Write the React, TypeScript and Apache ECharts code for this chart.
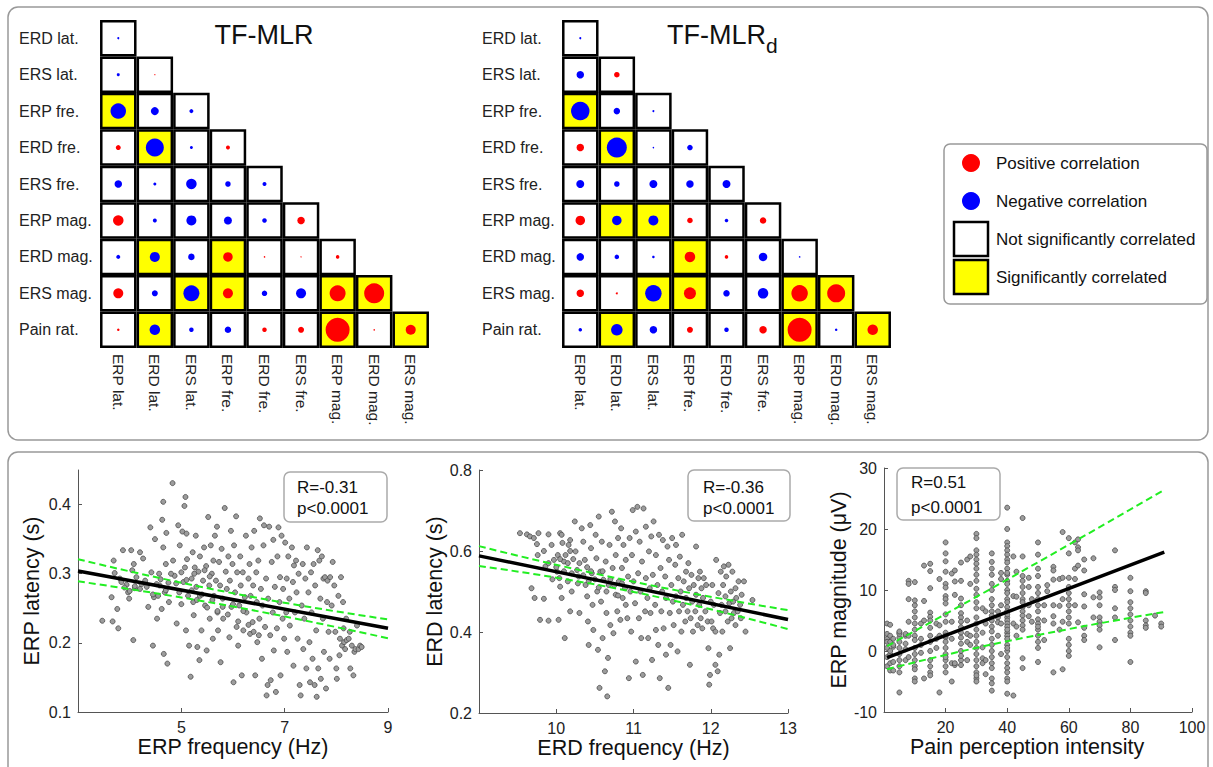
import React, { useEffect, useRef } from 'react';
import * as echarts from 'echarts';

const FONT = '"Liberation Sans", Arial, Helvetica, sans-serif';

const rowLabels = ['ERD lat.', 'ERS lat.', 'ERP fre.', 'ERD fre.', 'ERS fre.', 'ERP mag.', 'ERD mag.', 'ERS mag.', 'Pain rat.'];
const colLabels = ['ERP lat.', 'ERD lat.', 'ERS lat.', 'ERP fre.', 'ERD fre.', 'ERS fre.', 'ERP mag.', 'ERD mag.', 'ERS mag.'];

// correlation coefficients (sign = colour, magnitude = dot size), lower triangle
const mlrCorr = [
  [-0.04],
  [-0.06, 0.02],
  [-0.31, -0.16, -0.08],
  [0.10, -0.36, -0.06, 0.08],
  [-0.15, -0.06, -0.21, -0.11, -0.08],
  [0.21, -0.08, -0.20, -0.16, -0.09, 0.15],
  [-0.08, -0.20, -0.13, 0.19, 0.03, 0.02, 0.07],
  [0.20, -0.12, -0.32, 0.20, -0.11, -0.20, 0.32, 0.40],
  [0.05, -0.21, -0.09, -0.13, 0.09, 0.12, 0.48, 0.03, 0.20],
];
const mlrSig = [
  [0], [0, 0], [1, 0, 0], [0, 1, 0, 0], [0, 0, 0, 0, 0], [0, 0, 0, 0, 0, 0],
  [0, 1, 0, 1, 0, 0, 0], [0, 0, 1, 1, 0, 0, 1, 1], [0, 1, 0, 0, 0, 0, 1, 0, 1],
];
const mlrdCorr = [
  [-0.04],
  [-0.15, 0.11],
  [-0.37, -0.13, -0.04],
  [0.15, -0.40, -0.03, -0.11],
  [-0.16, -0.11, -0.16, -0.15, -0.16],
  [0.19, -0.19, -0.20, 0.11, -0.07, 0.13],
  [-0.15, -0.09, -0.05, 0.21, 0.07, -0.17, -0.03],
  [0.15, 0.04, -0.33, 0.24, -0.13, -0.21, 0.33, 0.36],
  [-0.07, -0.23, -0.15, 0.12, -0.09, 0.15, 0.48, -0.05, 0.21],
];
const mlrdSig = [
  [0], [0, 0], [1, 0, 0], [0, 1, 0, 0], [0, 0, 0, 0, 0], [0, 1, 1, 0, 0, 0],
  [0, 0, 0, 1, 0, 0, 0], [0, 0, 1, 1, 0, 0, 1, 1], [0, 1, 0, 0, 0, 0, 1, 0, 1],
];

// Scatter 1: ERP frequency (Hz) vs ERP latency (s)
const erpFreqLat = [
  [3.47,0.232],[3.65,0.266],[3.67,0.231],[3.78,0.221],[3.71,0.301],[3.69,0.319],[3.81,0.293],[3.76,0.249],[3.84,0.288],[3.87,0.334],
  [3.97,0.273],[3.99,0.264],[3.94,0.284],[4.03,0.334],[4.08,0.314],[4.05,0.305],[4.10,0.279],[4.07,0.204],[4.13,0.295],
  [4.20,0.331],[4.23,0.285],[4.26,0.322],[4.33,0.281],[4.36,0.252],[4.40,0.367],[4.42,0.302],[4.45,0.196],[4.47,0.266],[4.49,0.350],
  [4.52,0.285],[4.53,0.235],[4.57,0.300],[4.58,0.283],[4.62,0.249],[4.63,0.378],[4.65,0.404],[4.65,0.338],[4.66,0.184],[4.68,0.273],
  [4.70,0.314],[4.73,0.170],[4.71,0.359],[4.75,0.287],[4.76,0.259],
  [4.83,0.431],[4.84,0.319],[4.87,0.297],[4.91,0.228],[4.94,0.370],[4.96,0.273],[4.97,0.341],[5.00,0.256],[5.02,0.361],[5.04,0.288],
  [5.06,0.398],[5.08,0.411],[5.07,0.309],[5.09,0.218],[5.10,0.358],[5.11,0.321],[5.13,0.268],[5.15,0.196],[5.18,0.151],[5.20,0.293],
  [5.22,0.331],[5.23,0.259],[5.24,0.240],[5.26,0.309],[5.28,0.355],[5.29,0.281],[5.31,0.194],[5.33,0.303],[5.35,0.175],[5.36,0.325],[5.36,0.268],
  [5.39,0.218],[5.42,0.290],[5.44,0.338],[5.46,0.254],[5.48,0.311],[5.49,0.189],[5.52,0.382],[5.54,0.283],[5.55,0.235],[5.57,0.341],
  [5.59,0.300],[5.61,0.206],[5.62,0.319],[5.63,0.268],[5.65,0.355],[5.67,0.290],[5.69,0.368],[5.70,0.244],[5.71,0.218],[5.73,0.317],
  [5.75,0.283],[5.76,0.172],[5.78,0.336],[5.80,0.264],[5.81,0.235],[5.84,0.395],[5.86,0.303],[5.88,0.278],[5.91,0.325],[5.93,0.208],
  [5.94,0.290],[5.96,0.362],[5.97,0.252],[5.99,0.314],
  [6.01,0.143],[6.02,0.341],[6.04,0.273],[6.06,0.383],[6.07,0.223],[6.08,0.302],[6.10,0.196],[6.12,0.254],[6.14,0.325],[6.15,0.283],
  [6.17,0.153],[6.19,0.302],[6.20,0.218],[6.23,0.266],[6.25,0.355],[6.26,0.244],[6.30,0.293],[6.32,0.314],[6.33,0.213],[6.34,0.268],
  [6.36,0.338],[6.38,0.230],[6.39,0.283],[6.41,0.362],[6.43,0.153],[6.45,0.302],[6.46,0.259],[6.47,0.201],[6.49,0.319],[6.51,0.235],
  [6.52,0.380],[6.54,0.278],[6.56,0.177],[6.57,0.254],[6.59,0.341],[6.60,0.370],[6.62,0.223],[6.64,0.293],
  [6.65,0.124],[6.67,0.139],[6.68,0.264],[6.70,0.368],[6.72,0.211],[6.73,0.146],[6.75,0.317],[6.77,0.244],[6.78,0.349],[6.79,0.189],
  [6.81,0.281],[6.83,0.129],[6.85,0.221],[6.86,0.325],[6.88,0.367],[6.90,0.259],[6.91,0.295],[6.92,0.153],[6.94,0.355],[6.96,0.235],
  [6.97,0.278],[6.99,0.206],[7.01,0.345],[7.03,0.244],[7.04,0.293],[7.05,0.187],[7.07,0.325],[7.09,0.264],[7.10,0.225],[7.14,0.338],
  [7.16,0.288],[7.17,0.167],[7.18,0.312],[7.20,0.244],[7.22,0.319],[7.23,0.273],[7.25,0.206],[7.27,0.300],[7.29,0.139],
  [7.31,0.124],[7.33,0.254],[7.35,0.314],[7.36,0.191],[7.38,0.235],[7.40,0.293],[7.42,0.163],[7.43,0.338],[7.46,0.273],[7.48,0.201],
  [7.49,0.143],[7.51,0.302],[7.52,0.244],[7.54,0.177],[7.56,0.314],[7.58,0.139],[7.59,0.283],[7.61,0.218],[7.62,0.122],[7.64,0.334],
  [7.65,0.163],[7.67,0.319],[7.69,0.264],[7.70,0.148],[7.72,0.325],[7.74,0.235],[7.75,0.293],[7.76,0.187],[7.78,0.295],[7.80,0.134],
  [7.82,0.259],[7.83,0.290],[7.85,0.216],[7.87,0.177],[7.88,0.295],[7.91,0.254],[7.93,0.317],
  [7.96,0.283],[7.98,0.216],[8.00,0.163],[8.01,0.148],[8.04,0.268],[8.06,0.182],[8.07,0.206],[8.09,0.295],[8.11,0.196],[8.13,0.259],
  [8.14,0.221],[8.15,0.201],[8.17,0.191],[8.19,0.235],[8.20,0.204],[8.24,0.206],[8.26,0.216],[8.27,0.163],[8.30,0.196],[8.33,0.153],
  [8.35,0.187],[8.37,0.191],[8.40,0.225],[8.43,0.191],[8.46,0.196],[8.49,0.194],
  [3.90,0.280],[4.00,0.275],[4.10,0.282],[4.20,0.278],[4.30,0.290],[4.45,0.270],[4.55,0.268],[4.60,0.292],[4.70,0.276],[4.80,0.300],
  [4.90,0.286],[5.00,0.302],[5.10,0.291],[5.20,0.276],[5.30,0.262],[5.40,0.270],[5.50,0.251],[5.60,0.262],[5.70,0.246],[5.80,0.252],
  [5.90,0.241],[6.00,0.256],[6.10,0.231],[6.20,0.246],[6.30,0.226],[6.40,0.216],[6.50,0.211],[5.25,0.300],[5.45,0.305],[5.55,0.296],
];
const erpFit = [[3, 0.304], [9, 0.221]];
const erpUpper = [[3, 0.321], [6, 0.2717], [9, 0.234]];
const erpLower = [[3, 0.289], [6, 0.2525], [9, 0.2066]];

// Scatter 2: ERD frequency (Hz) vs ERD latency (s)
const erdFreqLat = [
  [9.53,0.644],[9.62,0.641],[9.66,0.636],[9.71,0.632],[9.77,0.644],[9.90,0.641],[10.05,0.644],[10.07,0.640],
  [9.68,0.508],[9.72,0.484],[9.84,0.482],[9.79,0.430],[9.90,0.428],[9.75,0.617],[9.84,0.600],[9.76,0.590],[9.86,0.562],[9.94,0.615],
  [9.97,0.578],[10.02,0.590],[10.01,0.549],[10.04,0.533],[10.05,0.512],[10.07,0.484],[10.03,0.430],[10.11,0.385],[10.10,0.574],
  [10.16,0.615],[10.18,0.627],[10.15,0.525],[10.20,0.500],[10.18,0.451],[10.24,0.673],[10.25,0.599],[10.27,0.553],[10.29,0.537],
  [10.30,0.447],[10.33,0.656],[10.35,0.623],[10.37,0.578],[10.38,0.516],[10.40,0.488],[10.41,0.426],[10.42,0.368],[10.44,0.664],
  [10.45,0.607],[10.46,0.545],[10.47,0.467],[10.48,0.405],[10.51,0.640],[10.52,0.582],[10.53,0.500],[10.54,0.356],[10.55,0.685],
  [10.56,0.262],[10.57,0.549],[10.58,0.475],[10.59,0.623],[10.60,0.385],[10.61,0.529],[10.63,0.303],[10.64,0.574],[10.65,0.447],
  [10.66,0.241],[10.67,0.336],[10.68,0.516],[10.69,0.615],[10.70,0.417],[10.72,0.697],[10.73,0.558],[10.74,0.397],[10.76,0.673],
  [10.77,0.492],[10.77,0.590],[10.79,0.451],[10.80,0.632],[10.81,0.525],[10.83,0.430],[10.84,0.656],[10.85,0.558],[10.86,0.484],
  [10.87,0.615],[10.89,0.508],[10.90,0.578],[10.90,0.467],[10.92,0.434],[10.93,0.537],[10.94,0.286],[10.95,0.632],[10.96,0.500],
  [10.97,0.401],[10.98,0.590],[10.99,0.701],[11.00,0.525],[11.02,0.471],[11.03,0.327],[11.03,0.648],[11.05,0.709],[11.06,0.545],
  [11.07,0.434],[11.08,0.623],[11.09,0.500],[11.10,0.385],[11.11,0.574],[11.12,0.294],[11.13,0.705],[11.15,0.451],[11.16,0.533],
  [11.16,0.660],[11.18,0.484],[11.19,0.385],[11.20,0.599],[11.21,0.508],[11.22,0.447],[11.23,0.636],[11.24,0.331],[11.25,0.541],
  [11.26,0.673],[11.28,0.467],[11.29,0.405],[11.29,0.590],[11.31,0.516],[11.32,0.368],[11.33,0.640],[11.34,0.286],[11.35,0.558],
  [11.36,0.451],[11.37,0.500],[11.38,0.627],[11.39,0.409],[11.41,0.537],[11.42,0.344],[11.42,0.484],[11.44,0.611],[11.45,0.262],
  [11.46,0.578],[11.47,0.447],[11.48,0.368],[11.49,0.516],[11.50,0.632],[11.51,0.475],[11.52,0.417],[11.54,0.566],[11.55,0.615],
  [11.55,0.488],[11.57,0.352],[11.58,0.533],[11.59,0.451],[11.60,0.586],[11.61,0.500],[11.62,0.401],[11.63,0.640],[11.64,0.467],
  [11.65,0.525],[11.67,0.426],[11.68,0.549],[11.68,0.484],[11.70,0.451],[11.71,0.570],[11.72,0.508],[11.73,0.319],[11.74,0.434],
  [11.75,0.541],[11.76,0.475],[11.77,0.401],[11.78,0.516],[11.80,0.451],[11.81,0.611],[11.81,0.492],[11.83,0.417],[11.84,0.533],
  [11.85,0.467],[11.86,0.549],[11.87,0.434],[11.88,0.508],[11.89,0.409],[11.90,0.484],[11.91,0.533],[11.93,0.451],[11.94,0.516],
  [11.96,0.426],[11.97,0.360],[11.98,0.270],[11.99,0.294],[12.00,0.475],[12.01,0.426],[12.02,0.516],[12.03,0.409],[12.04,0.467],
  [12.06,0.319],[12.06,0.401],[12.07,0.578],[12.09,0.303],[12.10,0.496],[12.11,0.344],[12.12,0.447],[12.13,0.549],[12.14,0.467],
  [12.15,0.401],[12.16,0.516],[12.17,0.562],[12.19,0.451],[12.19,0.488],[12.20,0.537],[12.22,0.426],[12.23,0.566],[12.24,0.471],
  [12.25,0.360],[12.26,0.500],[12.27,0.434],[12.28,0.549],[12.29,0.475],[12.30,0.447],[12.32,0.508],[12.32,0.417],[12.33,0.484],
  [12.35,0.451],[12.36,0.525],[12.38,0.467],[12.39,0.434],[12.40,0.492],[12.43,0.525],[12.45,0.401],[12.54,0.479],
  [10.00,0.560],[10.05,0.580],[10.10,0.550],[10.12,0.590],[10.15,0.570],[10.20,0.545],[10.22,0.580],[10.28,0.520],[10.30,0.570],
  [10.35,0.540],[10.40,0.560],[10.42,0.525],[10.45,0.550],[10.50,0.530],[10.55,0.510],[10.60,0.550],[10.65,0.500],[10.70,0.530],
  [10.75,0.515],[10.80,0.490],[10.85,0.520],[9.95,0.530],[9.90,0.570],[10.08,0.620],[10.18,0.600],
];
const erdFit = [[9, 0.588], [13, 0.431]];
const erdUpper = [[9, 0.612], [11, 0.524], [13, 0.454]];
const erdLower = [[9, 0.563], [11, 0.499], [13, 0.407]];

// Scatter 3: pain perception intensity vs ERP magnitude (uV), grouped by rating
const painColumns: [number, number[]][] = [
  [1, [2.8, 4.5, 2, -1, -2.5, 0.5, 1.5]],
  [2, [4.3, 1.5, -0.5, -3.2, 2.5, 0, -2]],
  [3, [2, 0.7, -1.8, -3.2, 1]],
  [5, [3, 2.2, 1.5, 0.5, -0.5, -1.5, -2.5, -3.5, -6.8, 2.8, 3.2]],
  [7, [2.5, 1.2, -1.5, 0.3, 2.8]],
  [8, [11.5, 11, 8.5, 4.8, 2.5, -1]],
  [10, [11.3, 7.5, 6.5, 5.5, 4.5, 3.5, 2.5, 1.8, 0.5, -0.5, -1.5, -2.5, -3, -4.5, -5, 8.3]],
  [12, [2, 4.5, -0.3, 1]],
  [13, [14, 8.2, 5, -4.5]],
  [15, [14.3, 13.1, 10.3, 6.3, 5.6, 5, 3.8, 2.5, 1.5, 0, -1.5, -2.5, -3.5, -4]],
  [17, [0.5, 4.5, 2]],
  [18, [11.8, 4.2, 2.5, -6.8]],
  [20, [17.8, 16, 14.7, 13, 11, 10.4, 9, 8.5, 7.8, 6, 4.8, 3, 2.2, 1.5, 0.5, -0.5, -1.5, -2.5, -3.5, 2.5, -1]],
  [22, [12.7, 4.8, -2, -5, 2]],
  [23, [13.2, 11.4, 9.2, -2.3, -2]],
  [25, [14.5, 11.5, 8.6, 7.5, 6.2, 5.5, 4.8, 3.9, 3, 2.2, 1.2, 0, -1.5, -2.3, -0.8]],
  [27, [15, 5, 2.8, 1.5, -1.5]],
  [28, [15.5, 11, 2.5, 1]],
  [30, [19.2, 18.5, 16.5, 15.8, 15, 14.3, 13.5, 12.5, 11.5, 10.2, 9.2, 8, 7, 5.5, 4.5, 3.5, 2.5, 1.5, 0.5, -0.5, -1.5, -2.5, -3.5, -4.5, -5, -4]],
  [32, [7, 3, -1.2, -2, 0.6]],
  [33, [6.5, -3.8, -1.5, 4.5]],
  [35, [16, 14.6, 13.5, 12.5, 11, 10, 8.5, 7.5, 6.5, 5.8, 5, 4, 3.2, 2, 1, 0, -1, -2, -2.8, -4.5, -5.3, -6.5]],
  [37, [5.5, 2.5, 4.7, 6.5]],
  [38, [12.8, 11.8, 7.5, 4.5, -0.5]],
  [40, [23.5, 20, 17.8, 17.2, 16.5, 15.8, 15, 14.5, 13.5, 12.5, 12.8, 11.5, 11, 10, 9.5, 8.5, 8, 7.2, 6.5, 5.5, 5, 4.5, 4, 3, 2.5, 2, 1, 0, -1, -2, -2.8, -3.5, -4.5, -5, -7, 0.5, 6, 3.5]],
  [42, [15.5, 9, 4.5, -7.3]],
  [43, [13, 8.9, 4, 2.5]],
  [45, [21.8, 15.5, 12.3, 11.5, 10.5, 9.5, 8.5, 8, 7.2, 6.5, 5.8, 5, 4.2, 3.5, -1.2, -2.8]],
  [47, [12, 10.5, 7.5, 5.7]],
  [48, [8.5, 4.8]],
  [50, [17.8, 15.8, 13.5, 12.3, 10.5, 9.5, 8.5, 7.5, 6.5, 5.2, 4.5, 3.5, 2.5, 1.5, 0.5, -1.8, 4]],
  [52, [7.5, 5, 1.8]],
  [53, [9.8, 10.8]],
  [55, [13.8, 13.2, 11.7, 7.5, 5.7, 4.5, -3.5]],
  [57, [11.8, 7.4, 3.5]],
  [58, [19.5, 12, 8.5, 4.8, -3]],
  [60, [18.5, 16, 12, 10.5, 9.5, 8.5, 7.5, 6.5, 5.5, 4.5, 2, 1, 0, -0.8]],
  [62, [17.8, 13.5, 11.8, 7.5]],
  [63, [18.3, 17, 16.5, 14, 4.7]],
  [65, [15, 13.2, 9.3, 7.3, 3.8, 2.5, 1.8]],
  [68, [15.2, 8.8, 5.5]],
  [70, [9.6, 8.8, 7.5, 5.5, 4.8, 4.2, 3.5, 0.6]],
  [75, [16.5, 10.5, 10, 7, 5.5, 1.8]],
  [80, [12, 9.8, 8, 7, 6, 5, 4, 3, 2.5, -1.8]],
  [85, [9.8, 9.5, 5, 4.2, 3.8]],
  [88, [5.8]],
  [90, [4.5, 4]],
];
const painFit = [[1, -1.1], [91, 16.2]];
const painUpper = [[1, 0.8], [40, 11.7], [91, 26.4]];
const painLower = [[1, -3.0], [40, 1.6], [91, 6.4]];

const painPoints = painColumns.flatMap(([x, ys]) => ys.map((y) => [x, y]));

function matrixSeries(corr: number[][], sig: number[][], idx: number) {
  const cells: any[] = [];
  const dots: any[] = [];
  corr.forEach((row, i) =>
    row.forEach((r, j) => {
      cells.push({ value: [j, i], itemStyle: { color: sig[i][j] ? '#ffff00' : '#ffffff' } });
      dots.push({
        value: [j, i, r],
        symbolSize: Math.max(1.2, Math.abs(r) * 50),
        itemStyle: { color: r >= 0 ? '#ff0000' : '#0000ff' },
      });
    })
  );
  return [
    {
      type: 'scatter', xAxisIndex: idx, yAxisIndex: idx, symbol: 'rect', symbolSize: 34, data: cells,
      itemStyle: { borderColor: '#000', borderWidth: 2.5, opacity: 1 }, z: 2, silent: true,
    },
    {
      type: 'scatter', xAxisIndex: idx, yAxisIndex: idx, symbol: 'circle', data: dots,
      itemStyle: { opacity: 1 }, z: 3, silent: true,
    },
  ];
}

function catAxes(idx: number, margin: number) {
  const x = {
    type: 'category', gridIndex: idx, data: colLabels, boundaryGap: true,
    axisLine: { show: false }, axisTick: { show: false }, splitLine: { show: false },
    axisLabel: { rotate: -90, margin: 6, fontSize: 15.5, color: '#222', fontFamily: FONT, interval: 0 },
  };
  const y = {
    type: 'category', gridIndex: idx, data: rowLabels, inverse: true, boundaryGap: true,
    axisLine: { show: false }, axisTick: { show: false }, splitLine: { show: false },
    axisLabel: { align: 'left', margin, fontSize: 16, color: '#222', fontFamily: FONT, interval: 0 },
  };
  return { x, y };
}

const axisLineStyle = { show: true, onZero: false, lineStyle: { color: '#555', width: 1 } };
const axisTickStyle = { show: true, inside: true, length: 4, lineStyle: { color: '#555' } };
const tickLabel = { fontSize: 16, color: '#222', fontFamily: FONT, margin: 7 };
const nameStyle = { fontSize: 21.5, color: '#111', fontFamily: FONT };

function valAxes(idx: number, xr: number[], yr: number[], xName: string, yName: string, yGap: number, xPad?: number[]) {
  const x = {
    type: 'value', gridIndex: idx, min: xr[0], max: xr[1], interval: xr[2],
    axisLine: axisLineStyle, axisTick: axisTickStyle, splitLine: { show: false },
    axisLabel: { ...tickLabel, showMinLabel: false },
    name: xName, nameLocation: 'middle', nameGap: 20,
    nameTextStyle: { ...nameStyle, padding: xPad || [0, 0, 0, 0] },
  };
  const y = {
    type: 'value', gridIndex: idx, min: yr[0], max: yr[1], interval: yr[2],
    axisLine: axisLineStyle, axisTick: axisTickStyle, splitLine: { show: false },
    axisLabel: { ...tickLabel, showMaxLabel: yr[3] ? false : true },
    name: yName, nameLocation: 'middle', nameGap: yGap, nameTextStyle: nameStyle,
  };
  return { x, y };
}

function scatterSeries(idx: number, pts: number[][], fit: number[][], up: number[][], lo: number[][]) {
  const green = { color: '#22ee22', width: 2, type: [7, 4] };
  return [
    {
      type: 'scatter', xAxisIndex: idx, yAxisIndex: idx, data: pts, symbolSize: 5, z: 2, silent: true,
      itemStyle: { color: '#9c9c9c', borderColor: '#4a4a4a', borderWidth: 0.8, opacity: 1 },
    },
    { type: 'line', xAxisIndex: idx, yAxisIndex: idx, data: up, smooth: true, symbol: 'none', lineStyle: green, z: 3, silent: true },
    { type: 'line', xAxisIndex: idx, yAxisIndex: idx, data: lo, smooth: true, symbol: 'none', lineStyle: green, z: 3, silent: true },
    { type: 'line', xAxisIndex: idx, yAxisIndex: idx, data: fit, symbol: 'none', lineStyle: { color: '#000', width: 3.5 }, z: 4, silent: true },
  ];
}

function statBox(x: number, y: number, w: number, h: number, tx: number, y1: number, y2: number, r: string) {
  return [
    { type: 'rect', shape: { x, y, width: w, height: h, r: 6 }, style: { fill: '#fff', stroke: '#aaa', lineWidth: 1.5 }, z: 10 },
    { type: 'text', x: tx, y: y1, style: { text: r, font: `17px ${FONT}`, fill: '#111', verticalAlign: 'middle' }, z: 11 },
    { type: 'text', x: tx, y: y2, style: { text: 'p<0.0001', font: `17px ${FONT}`, fill: '#111', verticalAlign: 'middle' }, z: 11 },
  ];
}

export default function App() {
  const ref = useRef<HTMLDivElement>(null);
  useEffect(() => {
    if (!ref.current) return;
    const chart = echarts.init(ref.current, undefined, { renderer: 'svg' });
    const m1 = catAxes(0, 81);
    const m2 = catAxes(1, 80);
    const s1 = valAxes(2, [3, 9, 2], [0.1, 0.45, 0.1, 1], 'ERP frequency (Hz)', 'ERP latency (s)', 35);
    const s2 = valAxes(3, [9, 13, 1], [0.2, 0.8, 0.2, 0], 'ERD frequency (Hz)', 'ERD latency (s)', 32);
    const s3 = valAxes(4, [0, 100, 20], [-10, 30, 10, 0], 'Pain perception intensity', 'ERP magnitude (\u03bcV)', 31, [0, 22, 0, 0]);

    const option: any = {
      animation: false,
      backgroundColor: '#fff',
      textStyle: { fontFamily: FONT },
      grid: [
        { left: 100, top: 20, width: 329, height: 328 },
        { left: 562, top: 20, width: 329, height: 328 },
        { left: 78, top: 470, width: 310, height: 242 },
        { left: 479, top: 470, width: 309, height: 243 },
        { left: 884, top: 468, width: 308, height: 244 },
      ],
      xAxis: [m1.x, m2.x, s1.x, s2.x, s3.x],
      yAxis: [m1.y, m2.y, s1.y, s2.y, s3.y],
      series: [
        ...matrixSeries(mlrCorr, mlrSig, 0),
        ...matrixSeries(mlrdCorr, mlrdSig, 1),
        ...scatterSeries(2, erpFreqLat, erpFit, erpUpper, erpLower),
        ...scatterSeries(3, erdFreqLat, erdFit, erdUpper, erdLower),
        ...scatterSeries(4, painPoints, painFit, painUpper, painLower),
      ],
      graphic: [
        { type: 'rect', shape: { x: 8, y: 7, width: 1200, height: 433, r: 10 }, style: { fill: 'none', stroke: '#999', lineWidth: 1.5 }, z: -1, silent: true },
        { type: 'rect', shape: { x: 8, y: 452, width: 1200, height: 340, r: 10 }, style: { fill: 'none', stroke: '#999', lineWidth: 1.5 }, z: -1, silent: true },
        { type: 'text', x: 264, y: 35, style: { text: 'TF-MLR', font: `27px ${FONT}`, fill: '#111', align: 'center', verticalAlign: 'middle' } },
        { type: 'text', x: 667, y: 35, style: { text: 'TF-MLR', font: `27px ${FONT}`, fill: '#111', align: 'left', verticalAlign: 'middle' } },
        { type: 'text', x: 766, y: 45, style: { text: 'd', font: `21px ${FONT}`, fill: '#111', align: 'left', verticalAlign: 'middle' } },
        { type: 'rect', shape: { x: 944, y: 144, width: 263, height: 160, r: 6 }, style: { fill: '#fff', stroke: '#999', lineWidth: 1.5 } },
        { type: 'circle', shape: { cx: 971, cy: 163, r: 9 }, style: { fill: '#ff0000' } },
        { type: 'circle', shape: { cx: 971, cy: 201, r: 9 }, style: { fill: '#0000ff' } },
        { type: 'rect', shape: { x: 954, y: 222, width: 34, height: 34 }, style: { fill: '#fff', stroke: '#000', lineWidth: 2.5 } },
        { type: 'rect', shape: { x: 954, y: 260, width: 34, height: 34 }, style: { fill: '#ffff00', stroke: '#000', lineWidth: 2.5 } },
        { type: 'text', x: 996, y: 163, style: { text: 'Positive correlation', font: `17px ${FONT}`, fill: '#111', verticalAlign: 'middle' } },
        { type: 'text', x: 996, y: 201, style: { text: 'Negative correlation', font: `17px ${FONT}`, fill: '#111', verticalAlign: 'middle' } },
        { type: 'text', x: 996, y: 239, style: { text: 'Not significantly correlated', font: `17px ${FONT}`, fill: '#111', verticalAlign: 'middle' } },
        { type: 'text', x: 996, y: 277, style: { text: 'Significantly correlated', font: `17px ${FONT}`, fill: '#111', verticalAlign: 'middle' } },
        ...statBox(284, 472, 103, 50, 297, 487, 508, 'R=-0.31'),
        ...statBox(688, 470, 102, 51, 703, 487, 508, 'R=-0.36'),
        ...statBox(897, 468, 103, 52, 911, 482, 507, 'R=0.51'),
      ],
    };
    chart.setOption(option);
    return () => chart.dispose();
  }, []);
  return <div ref={ref} style={{ position: 'fixed', left: 0, top: 0, width: 1213, height: 767 }} />;
}
